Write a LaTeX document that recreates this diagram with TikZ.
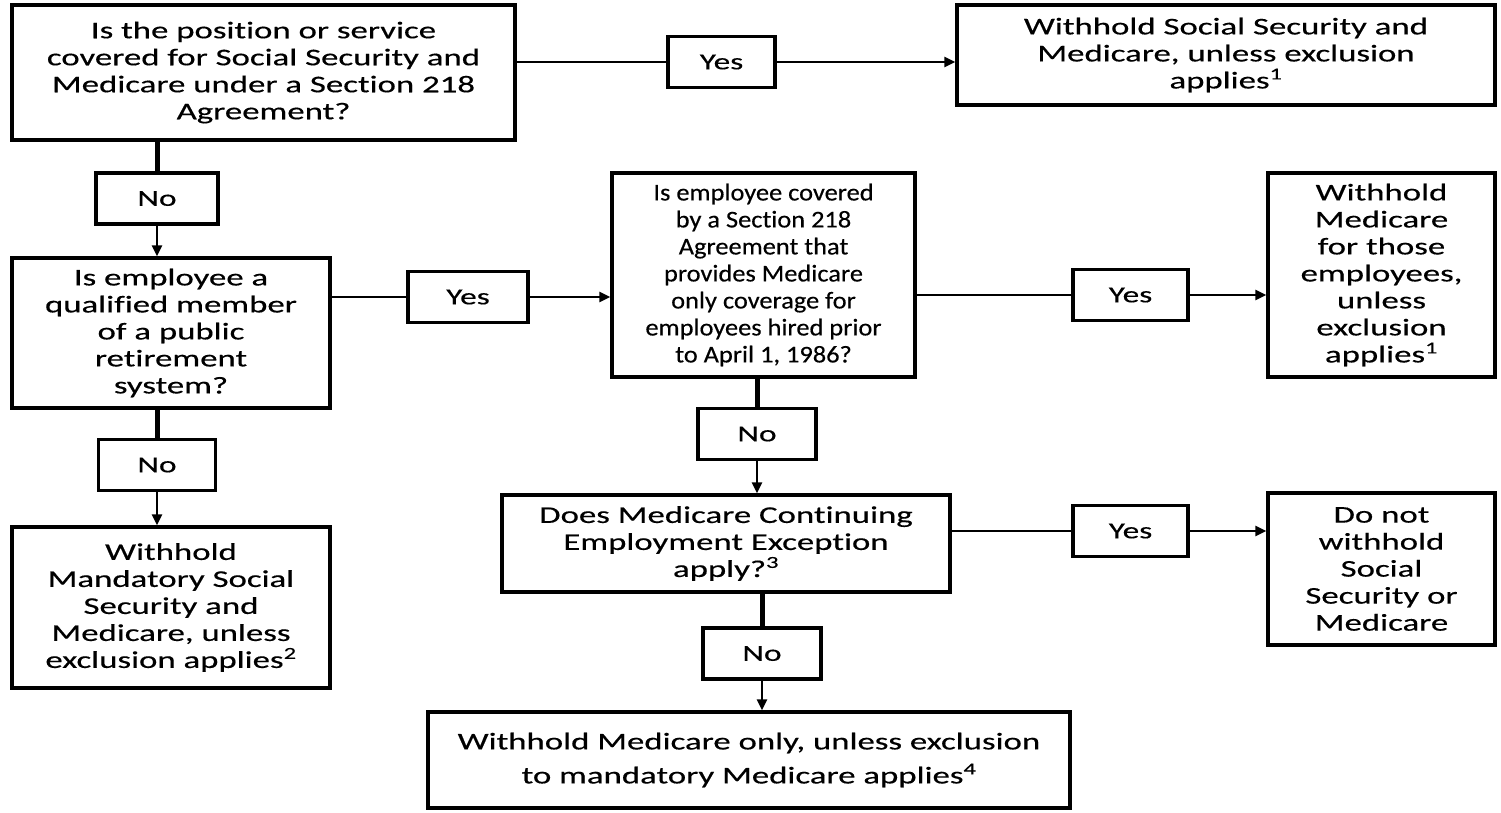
\documentclass[tikz,border=0pt]{standalone}
\usepackage{fontspec}
\setmainfont[Ligatures=NoCommon]{Carlito}
\newfontfamily\widefont[FakeStretch=1.45, FakeBold=0.4, Ligatures=NoCommon]{Carlito}
\newfontfamily\narrowfont[FakeStretch=1.1, FakeBold=0.4, Ligatures=NoCommon]{Carlito}
\usepackage{tikz}
\usetikzlibrary{arrows.meta, positioning, calc}

\begin{document}
\begin{tikzpicture}[
    x=1pt, y=-1pt,
    box/.style={draw, line width=3.5pt, minimum width=#1, align=center, font=\widefont\fontsize{24}{27}\selectfont, inner sep=2pt},
    label box/.style={draw, line width=3.5pt, minimum width=#1, minimum height=51pt, font=\widefont\fontsize{23}{27}\selectfont},
    arrow/.style={-{Triangle[length=11pt, width=10pt]}, line width=2.5pt},
    link/.style={line width=2.5pt},
    stem/.style={line width=5pt}
]
    \useasboundingbox (0,0) rectangle (1501,812);

    % Questions
    \node[box=503pt, minimum height=135pt] (q1) at (263.5,72.5) {Is the position or service\\covered for Social Security and\\Medicare under a Section 218\\Agreement?};
    \node[box=318pt, minimum height=150pt] (q2) at (171,333) {Is employee a\\qualified member\\of a public\\retirement\\system?};
    \node[box=303pt, minimum height=204pt, font=\narrowfont\fontsize{24}{27}\selectfont] (q3) at (763.5,275) {Is employee covered\\by a Section 218\\Agreement that\\provides Medicare\\only coverage for\\employees hired prior\\to April 1, 1986?};
    \node[box=448pt, minimum height=97pt] (q4) at (726,543.5) {Does Medicare Continuing\\Employment Exception\\apply?\textsuperscript{3}};

    % Outcomes
    \node[box=538pt, minimum height=100pt] (r1) at (1226,55) {Withhold Social Security and\\Medicare, unless exclusion\\applies\textsuperscript{1}};
    \node[box=227pt, minimum height=204pt] (r2) at (1381.5,275) {Withhold\\Medicare\\for those\\employees,\\unless\\exclusion\\applies\textsuperscript{1}};
    \node[box=227pt, minimum height=152pt] (r3) at (1381.5,569) {Do not\\withhold\\Social\\Security or\\Medicare};
    \node[box=642pt, minimum height=96pt] (r4) at (749,760) {Withhold Medicare only, unless exclusion\\[7pt]to mandatory Medicare applies\textsuperscript{4}};
    \node[box=318pt, minimum height=161pt] (r5) at (171,607.5) {Withhold\\Mandatory Social\\Security and\\Medicare, unless\\exclusion applies\textsuperscript{2}};

    % Answers
    \node[label box=107pt] (yes1) at (721.5,62) {Yes};
    \node[label box=120pt] (yes2) at (468,297) {Yes};
    \node[label box=115pt] (yes3) at (1130.5,295) {Yes};
    \node[label box=115pt] (yes4) at (1130.5,531) {Yes};
    \node[label box=122pt] (no1) at (157,198.5) {No};
    \node[label box=117pt] (no2) at (157,465) {No};
    \node[label box=118pt] (no3) at (757,434) {No};
    \node[label box=118pt] (no4) at (762,653.5) {No};

    \draw[link] (yes1 -| q1.east) -- (yes1);
    \draw[arrow] (yes1) -- (yes1 -| r1.west);
    \draw[link] (yes2 -| q2.east) -- (yes2);
    \draw[arrow] (yes2) -- (yes2 -| q3.west);
    \draw[link] (yes3 -| q3.east) -- (yes3);
    \draw[arrow] (yes3) -- (yes3 -| r2.west);
    \draw[link] (yes4 -| q4.east) -- (yes4);
    \draw[arrow] (yes4) -- (yes4 -| r3.west);

    \draw[stem] (no1 |- q1.south) -- (no1);
    \draw[arrow] (no1) -- (no1 |- q2.north);
    \draw[stem] (no2 |- q2.south) -- (no2);
    \draw[arrow] (no2) -- (no2 |- r5.north);
    \draw[stem] (no3 |- q3.south) -- (no3);
    \draw[arrow] (no3) -- (no3 |- q4.north);
    \draw[stem] (no4 |- q4.south) -- (no4);
    \draw[arrow] (no4) -- (no4 |- r4.north);
\end{tikzpicture}
\end{document}
